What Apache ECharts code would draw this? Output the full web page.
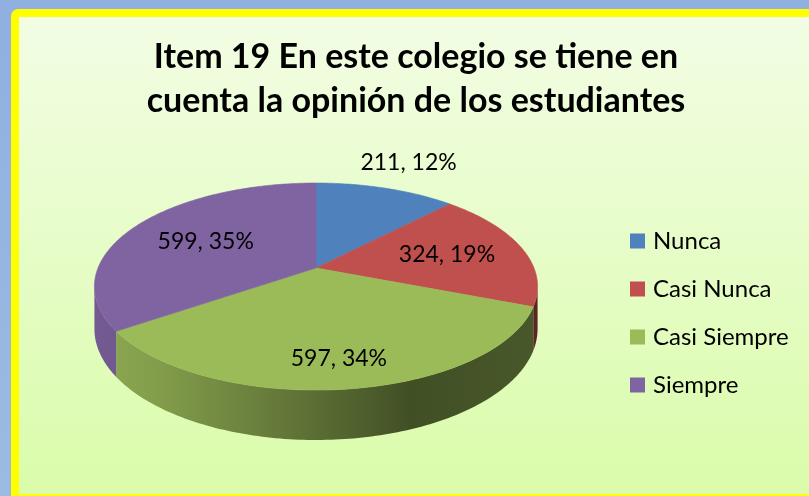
<!DOCTYPE html>
<html><head><meta charset="utf-8">
<script src="https://cdn.jsdelivr.net/npm/echarts@6/dist/echarts.min.js"></script>
<style>html,body{margin:0;padding:0;background:#fff;} #c{width:809px;height:496px;}</style>
</head><body><div id="c"></div>
<script>
// ---- data ----
const categories = ['Nunca', 'Casi Nunca', 'Casi Siempre', 'Siempre'];
const values = [211, 324, 597, 599];
const colors = ['#4f81bd', '#c0504d', '#9bbb59', '#8064a2'];
const titleLines = ['Item 19 En este colegio se tiene en', 'cuenta la opinión de los estudiantes'];

// ---- layout (3D pie projection) ----
const CX = 316, CY = 268, RX = 218, RY = 100.2, PERSP = 0.179, DEPTH = 41;
const LABEL_R = [1.4, 0.63, 0.78, 0.6];
const FONT = 'Lato';

const total = values.reduce((a, b) => a + b, 0);
const SIL = Math.acos(-PERSP);          // silhouette angle on right side
const SIL2 = 2 * Math.PI - SIL;         // silhouette angle on left side

function proj(theta, r, h) {
  const X = r * Math.sin(theta), Z = r * Math.cos(theta);
  const d = 1 + PERSP * Z;
  return [CX + RX * X / d, CY + (-RY * Z + h) / d];
}
function arc(a0, a1, h) {
  const pts = [];
  const n = Math.max(2, Math.ceil(Math.abs(a1 - a0) / (Math.PI / 180)));
  for (let k = 0; k <= n; k++) pts.push(proj(a0 + (a1 - a0) * k / n, 1, h));
  return pts;
}
function shade(hex, f) {
  const n = parseInt(hex.slice(1), 16);
  const r = Math.round(((n >> 16) & 255) * f), g = Math.round(((n >> 8) & 255) * f), b = Math.round((n & 255) * f);
  return 'rgb(' + r + ',' + g + ',' + b + ')';
}

function renderItem(params, api) {
  const i = params.dataIndex;
  const v = api.value(0);
  let start = 0;
  for (let k = 0; k < i; k++) start += values[k];
  const a0 = start / total * 2 * Math.PI;
  const a1 = (start + v) / total * 2 * Math.PI;
  const col = colors[i];
  const children = [];
  // side wall (front-facing part only)
  const lo = Math.max(a0, SIL), hi = Math.min(a1, SIL2);
  if (lo < hi) {
    const topArc = arc(lo, hi, 0);
    const botArc = arc(hi, lo, DEPTH);
    children.push({
      type: 'polygon', z2: 1,
      shape: { points: topArc.concat(botArc) },
      style: {
        fill: {
          type: 'linear', global: true, x: CX - RX, y: 0, x2: CX + RX, y2: 0,
          colorStops: [
            { offset: 0, color: shade(col, 0.9) },
            { offset: 0.12, color: shade(col, 0.85) },
            { offset: 0.4, color: shade(col, 0.66) },
            { offset: 0.72, color: shade(col, 0.42) },
            { offset: 1, color: shade(col, 0.47) }
          ]
        },
        stroke: null
      }
    });
  }
  // top face
  const pts = [[CX, CY]].concat(arc(a0, a1, 0));
  children.push({
    type: 'polygon', z2: 2,
    shape: { points: pts },
    style: { fill: col, stroke: col, lineWidth: 0.6 }
  });
  // label
  const mid = (a0 + a1) / 2;
  const lp = proj(mid, LABEL_R[i], 0);
  const pct = Math.round(v / total * 100);
  children.push({
    type: 'text', z2: 5,
    x: lp[0], y: lp[1],
    style: {
      text: v + ', ' + pct + '%',
      align: 'center', verticalAlign: 'middle',
      fontSize: 23, fontFamily: FONT, fill: '#000'
    }
  });
  return { type: 'group', children: children };
}

const chart = echarts.init(document.getElementById('c'), null, { renderer: 'canvas' });
chart.setOption({
  animation: false,
  color: colors,
  graphic: [
    { type: 'rect', z: -10, shape: { x: 0, y: 0, width: 809, height: 496 },
      style: { fill: { type: 'linear', x: 0, y: 0, x2: 0, y2: 1, colorStops: [{ offset: 0, color: '#8fb0e0' }, { offset: 1, color: '#9cbbe2' }] } } },
    { type: 'rect', z: -9, shape: { x: 11, y: 9, width: 810, height: 487, r: [7, 0, 0, 0] },
      style: { fill: '#ffff00' } },
    { type: 'rect', z: -8, shape: { x: 19, y: 17, width: 800, height: 477 },
      style: { fill: { type: 'linear', x: 0, y: 0, x2: 0, y2: 1, colorStops: [{ offset: 0, color: '#f2fde4' }, { offset: 1, color: '#dafcaa' }] } } }
  ],
  title: {
    text: titleLines.join('\n'),
    left: 416, top: 35, textAlign: 'center', padding: 0,
    textStyle: { fontSize: 34, fontWeight: 'bold', fontFamily: FONT, lineHeight: 44, color: '#000' }
  },
  legend: {
    orient: 'vertical', left: 630, top: 229, padding: 0,
    itemWidth: 15, itemHeight: 15, itemGap: 24, icon: 'rect',
    selectedMode: false,
    data: categories,
    textStyle: { fontSize: 24, fontFamily: FONT, color: '#000', lineHeight: 24, padding: [0, 0, 0, 3] }
  },
  series: [
    {
      type: 'custom', name: 'Item 19', coordinateSystem: 'none', silent: true,
      data: values.map(v => [v]),
      renderItem: renderItem
    },
    {
      // legend source only (kept off-screen)
      type: 'pie', name: 'legend', silent: true, center: [-200, -200], radius: 1,
      label: { show: false }, labelLine: { show: false },
      data: categories.map((c, i) => ({ name: c, value: values[i] }))
    }
  ]
});
</script>
</body></html>
